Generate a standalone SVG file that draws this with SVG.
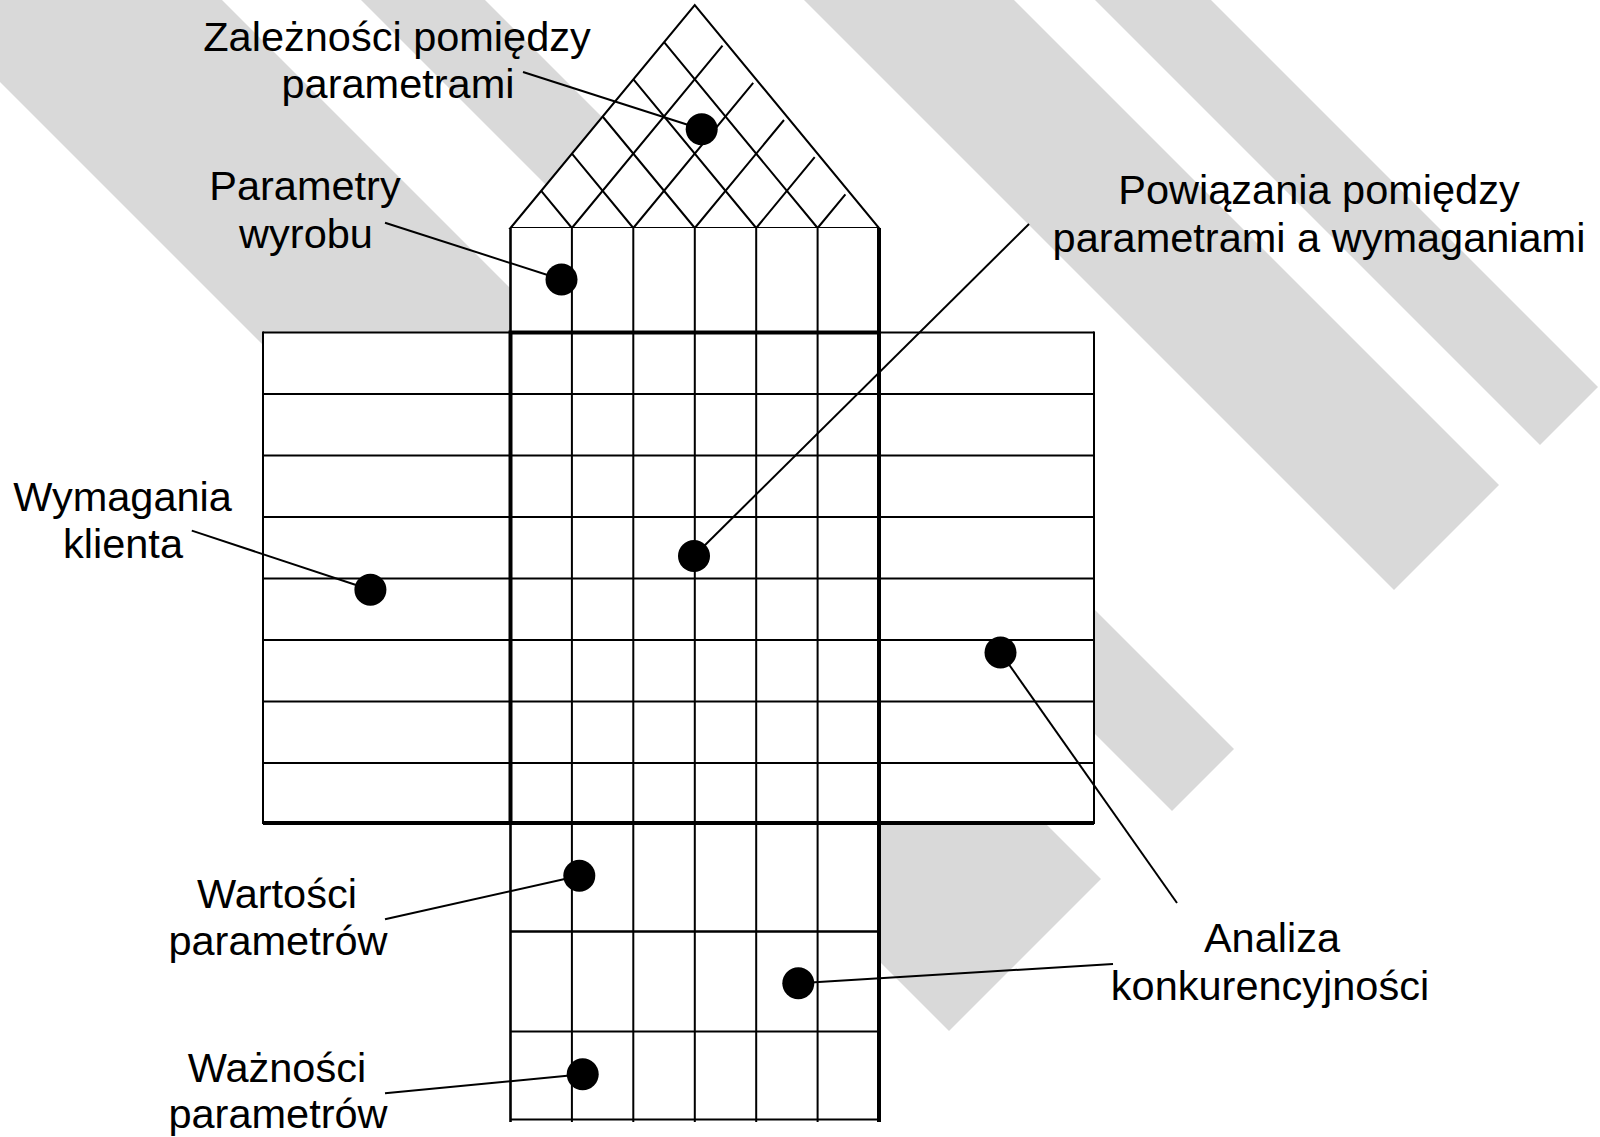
<svg xmlns="http://www.w3.org/2000/svg" width="1600" height="1137" viewBox="0 0 1600 1137">
<style>
.stripe{fill:#d9d9d9;stroke:none}
.box{fill:#fff;stroke:none}
.ln{stroke:#000;stroke-width:2;fill:none;stroke-linecap:butt}
.thk{stroke:#000;stroke-width:4;fill:none}
.mid{stroke:#000;stroke-width:2.6;fill:none}
.dot{fill:#000}
.lbl{font-family:"Liberation Sans",Arial,sans-serif;font-size:41.5px;fill:#000;text-anchor:middle}
</style>
<rect width="1600" height="1137" fill="#fff"/>
<g id="background-stripes">
<polygon class="stripe" points="-82,0 222,0 1101,879 949,1031"/>
<polygon class="stripe" points="361,0 485,0 1234,749 1172,811"/>
<polygon class="stripe" points="804,0 1014,0 1499,485 1394,590"/>
<polygon class="stripe" points="1095,0 1211,0 1598,387 1540,445"/>
</g>
<g id="roof">
<polygon class="box" points="510.5,228 694.75,5 879,228"/>
<path class="ln" d="M510.5,228 L694.75,5 L879,228 Z"/>
<path class="ln" d="M571.9,228 L541.2,190.8 M633.3,228 L571.9,153.7 M694.8,228 L602.6,116.5 M756.2,228 L633.4,79.3 M817.6,228 L664.1,42.2"/>
<path class="ln" d="M571.9,228 L722.5,45.7 M633.3,228 L753.2,82.8 M694.8,228 L784,120 M756.2,228 L814.7,157.2 M817.6,228 L845.4,194.3"/>
</g>
<g id="parametry-wyrobu">
<rect class="box" x="510.5" y="228" width="368.5" height="104.5"/>
</g>
<g id="wymagania-klienta">
<rect class="box" x="263" y="332.5" width="247.5" height="490.5"/>
</g>
<g id="macierz-powiazan">
<rect class="box" x="510.5" y="332.5" width="368.5" height="490.5"/>
</g>
<g id="analiza-prawa">
<rect class="box" x="879" y="332.5" width="215" height="490.5"/>
</g>
<g id="wartosci-parametrow">
<rect class="box" x="510.5" y="823" width="368.5" height="108.5"/>
</g>
<g id="analiza-konkurencyjnosci">
<rect class="box" x="510.5" y="931.5" width="368.5" height="100"/>
</g>
<g id="waznosci-parametrow">
<rect class="box" x="510.5" y="1031.5" width="368.5" height="88"/>
</g>
<g id="grid-lines">
<path class="ln" d="M571.9,228 V1122 M633.3,228 V1122 M694.8,228 V1122 M756.2,228 V1122 M817.6,228 V1122"/>
<path class="mid" d="M510.5,228 V1122"/>
<path class="ln" d="M263,332.5 H1094 M263,394 H1094 M263,455.5 H1094 M263,517 H1094 M263,578.5 H1094 M263,640 H1094 M263,701.5 H1094 M263,763 H1094"/>
<path class="ln" d="M263,331.5 V824 M1094,331.5 V824"/>
<path class="thk" d="M263,823 H1094"/>
<path class="thk" d="M508.5,332.5 H881 M510.5,332.5 V823"/>
<path class="thk" d="M879,228 V1122"/>
<path class="mid" d="M510.5,931.5 H879"/>
<path class="ln" d="M510.5,1031.5 H879 M510.5,1119.5 H879"/>
</g>
<g id="connectors">
<line class="ln" x1="523" y1="72" x2="701.7" y2="129.3"/>
<line class="ln" x1="385" y1="222.7" x2="561.5" y2="279.5"/>
<line class="ln" x1="1029" y1="224" x2="694" y2="556"/>
<line class="ln" x1="191.8" y1="530.6" x2="370.4" y2="589.8"/>
<line class="ln" x1="1000.5" y1="652.5" x2="1177" y2="903"/>
<line class="ln" x1="385" y1="919.3" x2="579.3" y2="875.7"/>
<line class="ln" x1="798.3" y1="983.3" x2="1113" y2="964"/>
<line class="ln" x1="385" y1="1093.3" x2="582.7" y2="1074.3"/>
</g>
<g id="dots">
<circle class="dot" cx="701.7" cy="129.3" r="16"/>
<circle class="dot" cx="561.5" cy="279.5" r="16"/>
<circle class="dot" cx="694" cy="556" r="16"/>
<circle class="dot" cx="370.4" cy="589.8" r="16"/>
<circle class="dot" cx="1000.5" cy="652.5" r="16"/>
<circle class="dot" cx="579.3" cy="875.7" r="16"/>
<circle class="dot" cx="798.3" cy="983.3" r="16"/>
<circle class="dot" cx="582.7" cy="1074.3" r="16"/>
</g>
<g id="labels">
<text class="lbl" x="397" y="51">Zależności pomiędzy</text>
<text class="lbl" x="398" y="98">parametrami</text>
<text class="lbl" x="305" y="200">Parametry</text>
<text class="lbl" x="306" y="248">wyrobu</text>
<text class="lbl" x="1319" y="204">Powiązania pomiędzy</text>
<text class="lbl" x="1319" y="252">parametrami a wymaganiami</text>
<text class="lbl" x="122.5" y="511">Wymagania</text>
<text class="lbl" x="123" y="558">klienta</text>
<text class="lbl" x="277" y="908">Wartości</text>
<text class="lbl" x="278" y="955">parametrów</text>
<text class="lbl" x="1272" y="952">Analiza</text>
<text class="lbl" x="1270" y="1000">konkurencyjności</text>
<text class="lbl" x="277" y="1082">Ważności</text>
<text class="lbl" x="278" y="1128">parametrów</text>
</g>
</svg>
